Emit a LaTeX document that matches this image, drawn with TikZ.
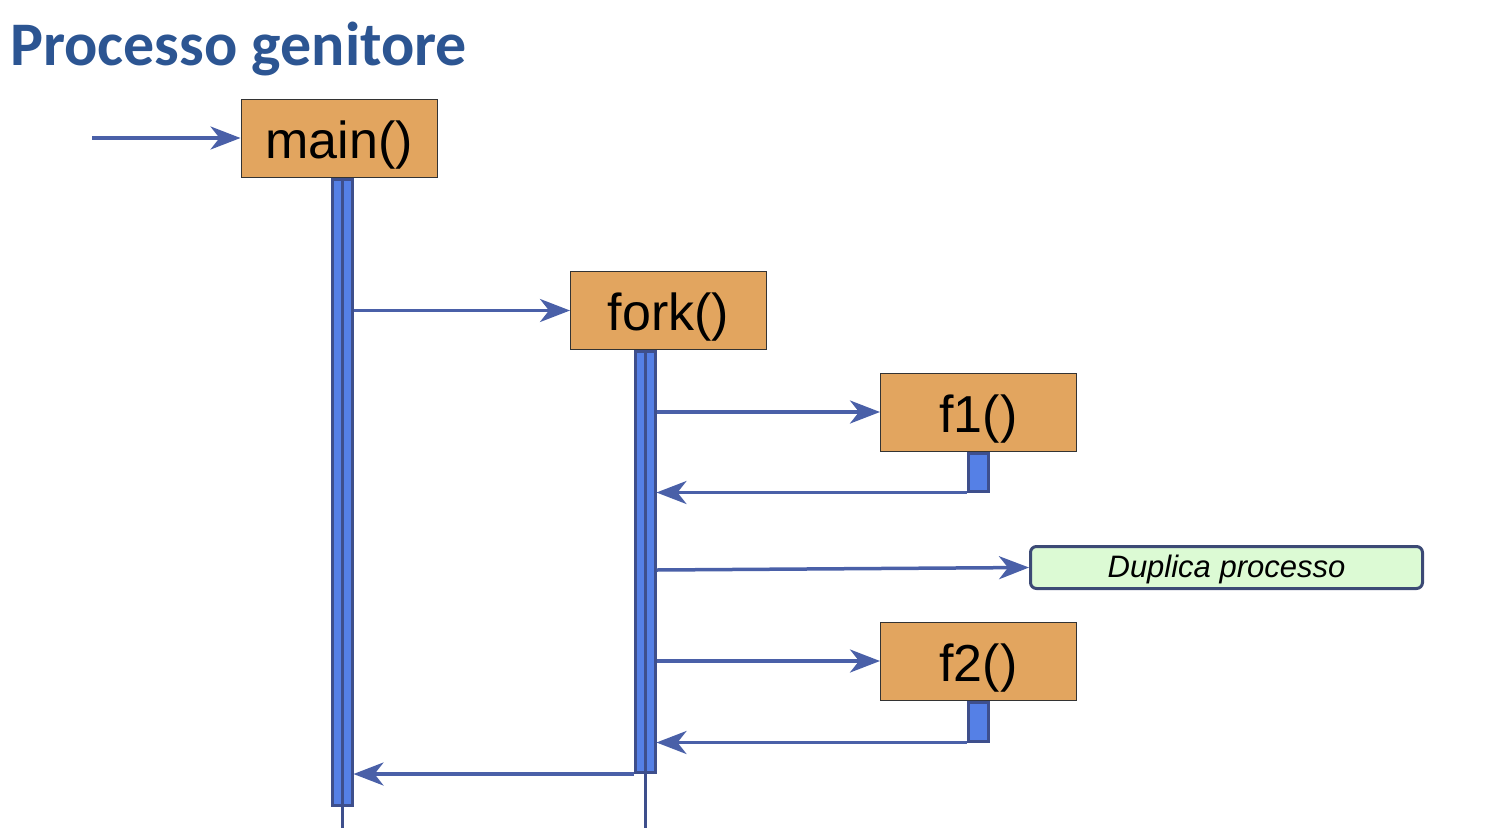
\documentclass[tikz,border=0pt]{standalone}
\usepackage{fontspec}
\setmainfont{Liberation Sans}
\newfontfamily\titlefont{Carlito}
\usepackage{tikz}
\usetikzlibrary{arrows.meta,positioning}

\definecolor{boxfill}{HTML}{E2A55F}
\definecolor{barfill}{HTML}{5580E6}
\definecolor{bardraw}{HTML}{3E4F8C}
\definecolor{msgcol}{HTML}{4A60A8}
\definecolor{notefill}{HTML}{DCFAD4}
\definecolor{notedraw}{HTML}{3C4A75}
\definecolor{titlecol}{HTML}{2C5592}

\begin{document}
\begin{tikzpicture}[x=1pt,y=-1pt,
    func/.style={draw=black!80,line width=1pt,fill=boxfill,minimum width=196pt,
        minimum height=78pt,inner sep=0pt,text height=40pt,text depth=0pt,
        font=\fontsize{52}{60}\selectfont},
    bar/.style={draw=bardraw,line width=3pt,fill=barfill,minimum width=20pt,
        inner sep=0pt,anchor=north},
    life/.style={draw=bardraw,line width=3pt},
    msg/.style={draw=msgcol,line width=3.5pt,-{Stealth[length=30pt,width=23pt,inset=9pt]}},
    note/.style={draw=notedraw,line width=3pt,fill=notefill,rounded corners=6pt,
        minimum width=392pt,minimum height=42pt,inner sep=0pt,text height=20pt,
        text depth=0pt,font=\fontsize{31}{36}\selectfont\itshape}]
    \useasboundingbox (0,0) rectangle (1496,830);

    \node[anchor=base west,inner sep=0pt,text=titlecol,font=\fontsize{62}{70}\titlefont\bfseries]
        (title) at (10,65) {Processo genitore};

    \node[func] (main) at (339,138) {main()};
    \node[func] (fork) at (668.5,310.5) {fork()};
    \node[func] (f1) at (978.5,412) {f1()};
    \node[func] (f2) at (978.5,661) {f2()};
    \node[note] (dup) at (1226.5,567.5) {Duplica processo};

    % activation bars
    \node[bar,minimum height=626pt] (mainbar) at (main.south -| 342,0) {};
    \node[bar,minimum height=421pt] (forkbar) at (fork.south -| 645,0) {};
    \node[bar,minimum height=38pt] (f1bar) at (f1.south) {};
    \node[bar,minimum height=39pt] (f2bar) at (f2.south) {};

    % lifelines
    \coordinate (mainend) at (342,828);
    \coordinate (forkend) at (645,828);
    \draw[life] (mainbar.north) -- (mainend);
    \draw[life] (forkbar.north) -- (forkend);

    % messages
    \coordinate (start) at (92,138);
    \coordinate (dupfrom) at (forkbar.east |- 0,570);
    \draw[msg] (start) -- (main.west);
    \draw[msg] (mainbar.east |- fork.west) -- (fork.west);
    \draw[msg] (forkbar.east |- f1.west) -- (f1.west);
    \draw[msg] (f1bar.south west) -- (forkbar.east |- f1bar.south);
    \draw[msg] (dupfrom) -- (dup.west);
    \draw[msg] (forkbar.east |- f2.west) -- (f2.west);
    \draw[msg] (f2bar.south west) -- (forkbar.east |- f2bar.south);
    \draw[msg] (forkbar.south west) -- (mainbar.east |- forkbar.south);
\end{tikzpicture}
\end{document}
